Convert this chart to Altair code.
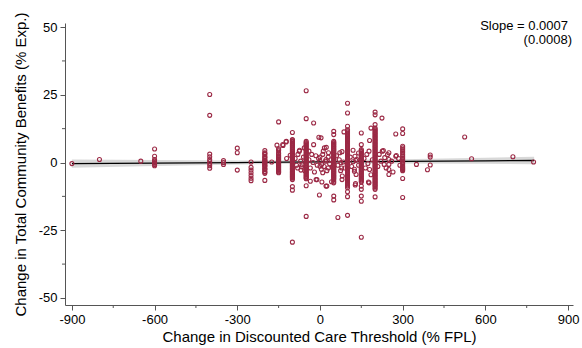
import altair as alt
import pandas as pd

# ---------------- data ----------------
cluster_x = [-900, -800, -650, -600, -400, -350, -300, -250, -200, -175, -150,
             -100, -50, 50, 65, 100, 150, 200, 225, 250, 275, 300, 350, 390,
             400, 525, 550, 700, 775]
cluster_y = [
    [-0.4],
    [1.1],
    [0.5],
    [5.0, 2.3, 1.1, 0.5, 0.0, -0.3, -0.7, -1.2],
    [25.1, 17.4, 3.1, 2.1, 1.1, 0.4, -0.4, -1.2, -2.1],
    [0.7, 0.0, -0.7],
    [5.3, 3.6, -2.8],
    [0.2, -1.8, -2.8, -3.8, -4.8, -5.8, -6.7],
    [4.4, 3.6, 2.9, 2.2, 1.6, 1.0, 0.5, 0.0, -0.5, -1.0, -1.5, -2.1, -2.7,
     -3.3, -4.0, -6.6],
    [0.2],
    [15.0, 5.1, 4.3, 3.5, 2.6, 1.8, 1.0, 0.3, -0.4, -1.1, -1.8, -2.6, -3.2,
     -3.8],
    [11.1, 8.5, 8.2, 7.5, 6.8, 6.1, 5.4, 4.7, 4.0, 3.3, 2.6, 2.0, 1.4, 0.8,
     0.2, -0.4, -1.0, -1.6, -2.2, -2.8, -3.4, -4.0, -4.6, -5.2, -5.8, -6.3,
     -8.9, -10.2, -29.4],
    [26.5, 16.2, 7.8, 7.0, 6.2, 5.4, 4.6, 3.8, 3.0, 2.3, 1.6, 0.9, 0.2, -0.5,
     -1.2, -1.9, -2.6, -3.3, -4.0, -4.7, -5.4, -6.0, -8.6, -19.9],
    [11.5, 10.3, 7.8, 7.1, 6.4, 5.7, 5.0, 4.3, 3.6, 2.9, 2.2, 1.5, 0.8, 0.1,
     -0.6, -1.3, -2.0, -2.7, -3.4, -4.1, -4.8, -5.5, -6.3, -7.5, -12.4,
     -13.8],
    [-20.3],
    [21.9, 18.3, 13.4, 12.1, 11.3, 10.5, 9.7, 8.9, 8.1, 7.3, 6.5, 5.7, 4.9,
     4.1, 3.3, 2.5, 1.7, 0.9, 0.1, -0.7, -1.5, -2.3, -3.1, -3.9, -4.7, -5.5,
     -6.3, -7.1, -7.9, -8.7, -10.8, -12.6, -19.5],
    [10.9, 6.6, 4.8, 4.0, 3.2, 2.4, 1.6, 0.8, 0.0, -0.8, -1.6, -2.4, -3.2,
     -4.0, -4.8, -5.6, -6.4, -7.2, -8.7, -9.9, -12.4, -14.3, -27.6],
    [18.6, 17.6, 14.0, 12.7, 11.9, 11.1, 10.3, 9.5, 8.7, 7.9, 7.1, 6.3, 5.5,
     4.7, 3.9, 3.1, 2.3, 1.5, 0.7, -0.1, -0.9, -1.7, -2.5, -3.3, -4.1, -4.9,
     -5.7, -6.5, -7.3, -8.1, -8.9, -9.9, -12.7],
    [16.4],
    [3.6, 1.1, -0.7, -2.6, -4.4],
    [10.5, 2.3],
    [12.4, 10.7, 6.0, 4.8, 3.6, 2.3, 1.1, 0.0, -1.3, -2.2, -3.0, -5.9, -12.9],
    [-0.7],
    [-2.7],
    [2.8, 2.0, -0.9],
    [9.4],
    [1.4],
    [2.1],
    [0.2],
]

# additional overlapping values inside the densest columns
dense_x = [-200, -150, -100, -50, 50, 100, 150, 200, 300]
dense_y = [
    [3.3, 1.9, 0.7, -0.2, -1.2, -2.4, -3.6],
    [4.7, 3.1, 2.2, 1.4, 0.6, -0.1, -0.8, -1.5, -2.2, -2.9, -3.5],
    [7.8, 7.1, 6.4, 5.7, 5.0, 4.3, 3.6, 2.9, 2.3, 1.7, 1.1, 0.5, -0.1, -0.7,
     -1.3, -1.9, -2.5, -3.1, -3.7, -4.3, -4.9, -5.5],
    [7.4, 6.6, 5.8, 5.0, 4.2, 3.4, 2.6, 1.9, 1.2, 0.5, -0.2, -0.9, -1.6,
     -2.3, -3.0, -3.7, -4.4, -5.1, -5.7],
    [7.4, 6.7, 6.0, 5.3, 4.6, 3.9, 3.2, 2.5, 1.8, 1.1, 0.4, -0.3, -1.0,
     -1.7, -2.4, -3.1, -3.8, -4.5, -5.2, -5.9, -6.9],
    [11.7, 10.9, 10.1, 9.3, 8.5, 7.7, 6.9, 6.1, 5.3, 4.5, 3.7, 2.9, 2.1, 1.3,
     0.5, -0.3, -1.1, -1.9, -2.7, -3.5, -4.3, -5.1, -5.9, -6.7, -7.5, -8.3,
     -9.3],
    [4.4, 3.6, 2.8, 2.0, 1.2, 0.4, -0.4, -1.2, -2.0, -2.8, -3.6, -4.4, -5.2,
     -6.0, -6.8],
    [12.3, 11.5, 10.7, 9.9, 9.1, 8.3, 7.5, 6.7, 5.9, 5.1, 4.3, 3.5, 2.7, 1.9,
     1.1, 0.3, -0.5, -1.3, -2.1, -2.9, -3.7, -4.5, -5.3, -6.1, -6.9, -7.7,
     -8.5, -9.4],
    [5.4, 4.2, 2.9, 1.7, 0.5, -0.6, -1.8, -2.6],
]

extra_x = [-156, -135, -134, -123, -122, -121, -108, -90, -85, -81, -80, -75,
           -74, -70, -69, -67, -65, -60, -57, -55, -40, -40, -35, -35, -30,
           -25, -23, -23, -20, -15, -14, -11, -10, -5, -4, -2, 0, 0, 0, 4, 5,
           6, 7, 10, 10, 12, 15, 16, 20, 22, 22, 23, 25, 25, 30, 30, 31, 35,
           40, 42, 45, 60, 65, 70, 72, 75, 76, 79, 80, 80, 81, 85, 87, 90,
           110, 115, 120, 120, 125, 125, 127, 128, 129, 130, 131, 134, 140,
           140, 160, 165, 170, 174, 176, 178, 178, 180, 180, 185, 185, 190,
           210, 215, 221, 226, 230, 233, 235, 240, 245, 260, 265, 277, 285,
           290]
extra_y = [6.4, 6.6, 6.3, 7.6, 7.8, 1.5, 2.7, 1.5, -1.0, -2.0, 3.0, 4.2,
           4.5, 0.5, -2.8, -1.6, -0.8, 2.0, 5.4, -3.0, 1.0, 4.2, -2.0, -6.9,
           3.0, 0.0, 14.6, 6.6, -3.5, 2.5, -6.3, -6.3, -1.0, 1.5, 9.3, -12.0,
           0.5, -1.4, 2.0, 9.1, -2.5, -0.7, -7.2, 3.0, -3.8, 4.2, -1.5, 5.4,
           0.5, 1.1, -8.7, 5.6, -3.0, -8.7, 2.0, -2.0, 3.6, -0.5, 1.0, -7.1,
           -1.8, 2.5, -1.0, 1.0, 3.6, -3.0, -0.1, -2.0, 4.0, -6.3, -5.0, 0.2,
           11.3, -2.0, 2.0, -1.5, 4.5, 0.3, -2.5, -3.2, 2.3, -8.3, -7.8, 0.8,
           -4.4, 1.1, 3.5, -1.0, 1.5, -2.0, 3.0, -0.4, -7.2, 4.2, -7.5, 8.1,
           -2.6, 12.7, -4.5, 1.0, -1.5, 3.0, 0.5, 4.2, 4.4, -0.7, 1.8, -2.0,
           2.9, 0.5, -3.5, 2.6, 1.5, -1.0]

# fitted line with its confidence band
fit_x = [-900, -600, -300, 0, 300, 600, 777]
fit_y = [-0.43, -0.22, -0.01, 0.20, 0.41, 0.62, 0.74]
fit_lo = [-1.96, -1.33, -0.76, -0.39, -0.34, -0.49, -0.61]
fit_hi = [1.10, 0.89, 0.74, 0.79, 1.16, 1.73, 2.09]

x_ticks = [-900, -600, -300, 0, 300, 600, 900]
x_minor = [-750, -450, -150, 150, 450, 750]
y_ticks = [-50, -25, 0, 25, 50]
y_minor = [-37.5, -12.5, 12.5, 37.5]

note_lines = ["Slope = 0.0007", "(0.0008)"]
x_title = "Change in Discounted Care Threshold (% FPL)"
y_title = "Change in Total Community Benefits (% Exp.)"

# ---------------- tables ----------------
px, py = [], []
for cx, ys in list(zip(cluster_x, cluster_y)) + list(zip(dense_x, dense_y)):
    for v in ys:
        px.append(cx)
        py.append(v)
px += extra_x
py += extra_y
pts = pd.DataFrame({"x": px, "y": py})
fit = pd.DataFrame({"x": fit_x, "fit": fit_y, "lo": fit_lo, "hi": fit_hi})

# ---------------- styling ----------------
W, H = 508, 282
FONT = "Liberation Sans"
RED = "#9b2945"
AX = "#555555"

xscale = alt.Scale(domain=[-925, 918], nice=False, zero=False)
yscale = alt.Scale(domain=[-52.6, 51.5], nice=False, zero=False)

xaxis = alt.Axis(values=x_ticks, title=x_title, labelExpr="'' + datum.value",
                 grid=False, tickSize=5, labelPadding=3, labelFontSize=13,
                 labelFont=FONT, labelColor="#000000", titleFont=FONT,
                 titleFontSize=15, titleFontWeight="normal", titleColor="#000000",
                 titleY=36, titleBaseline="alphabetic", domainColor=AX,
                 tickColor=AX, labelFlush=False)
yaxis = alt.Axis(values=y_ticks, title=y_title, labelExpr="'' + datum.value",
                 grid=False, tickSize=5, labelPadding=3, labelFontSize=13,
                 labelFont=FONT, labelColor="#000000", titleFont=FONT,
                 titleFontSize=15, titleFontWeight="normal", titleColor="#000000",
                 titleX=-44.5, titleBaseline="middle", domainColor=AX,
                 tickColor=AX, labelFlush=False)

band = alt.Chart(fit).mark_area(color="#d4d4d4", opacity=0.9).encode(
    x=alt.X("x:Q", scale=xscale, axis=xaxis),
    y=alt.Y("lo:Q", scale=yscale, axis=yaxis),
    y2="hi:Q",
)
line = alt.Chart(fit).mark_line(color="#000000", strokeWidth=1.3).encode(
    x=alt.X("x:Q", scale=xscale, axis=xaxis),
    y=alt.Y("fit:Q", scale=yscale, axis=yaxis),
)
scatter = alt.Chart(pts).mark_point(shape="circle", filled=False, size=16,
                                    strokeWidth=1.1, color=RED, opacity=1).encode(
    x=alt.X("x:Q", scale=xscale, axis=xaxis),
    y=alt.Y("y:Q", scale=yscale, axis=yaxis),
)
minx = alt.Chart(pd.DataFrame({"v": x_minor})).mark_rule(color=AX, strokeWidth=1).encode(
    x=alt.X("v:Q", scale=xscale, axis=xaxis),
    y=alt.value(H), y2=alt.value(H + 3),
)
miny = alt.Chart(pd.DataFrame({"v": y_minor})).mark_rule(color=AX, strokeWidth=1).encode(
    y=alt.Y("v:Q", scale=yscale, axis=yaxis),
    x=alt.value(0), x2=alt.value(-3),
)
t1 = alt.Chart(pd.DataFrame({"t": [note_lines[0]]})).mark_text(
    align="right", baseline="alphabetic", font=FONT, fontSize=13, color="#000000"
).encode(text="t:N", x=alt.value(503), y=alt.value(7))
t2 = alt.Chart(pd.DataFrame({"t": [note_lines[1]]})).mark_text(
    align="right", baseline="alphabetic", font=FONT, fontSize=13, color="#000000"
).encode(text="t:N", x=alt.value(507), y=alt.value(21))

chart = alt.layer(band, line, scatter, minx, miny, t1, t2).properties(
    width=W, height=H,
    autosize=alt.AutoSizeParams(type="none"),
    padding={"left": 65, "top": 23, "right": 9, "bottom": 43},
    background="#ffffff",
).configure_view(stroke=None)

chart.save("out.html", embed_options={"renderer": "svg", "actions": False})
